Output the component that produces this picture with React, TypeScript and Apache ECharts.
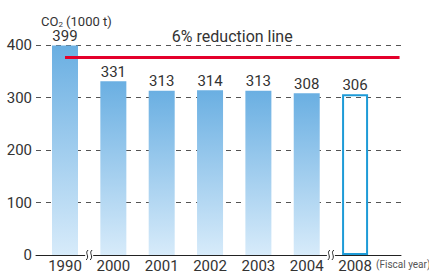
import React, { useEffect, useRef } from "react";
import * as echarts from "echarts";

const years = ["1990", "2000", "2001", "2002", "2003", "2004", "2008"];
const values = [399, 331, 313, 314, 313, 308, 306];
const hollowIndex = [6];
const reductionValue = 376;
const reductionLabel = "6% reduction line";
const yTicks = [0, 100, 200, 300, 400];
const breakPositions = [0.5, 5.5];

const FONT = "Roboto, 'Liberation Sans', sans-serif";

export default function App() {
  const ref = useRef<HTMLDivElement>(null);

  useEffect(() => {
    if (!ref.current) return;
    const chart = echarts.init(ref.current, null, { renderer: "svg" });
    const barGradient = new echarts.graphic.LinearGradient(0, 0, 0, 1, [
      { offset: 0, color: "#6aafe2" },
      { offset: 1, color: "#d7ebfa" },
    ]);
    const data = values.map((v, i) => {
      const hollow = hollowIndex.includes(i);
      return {
        value: [i, v],
        itemStyle: hollow
          ? { color: "rgba(0,0,0,0)", borderColor: "#1e9bd7", borderWidth: 2 }
          : { color: barGradient },
      };
    });
    chart.setOption({
      animation: false,
      textStyle: { fontFamily: FONT },
      title: {
        text: "{a|CO}{b|2}{a| (1000 t)}",
        left: 36,
        top: 9,
        textStyle: {
          fontWeight: "normal",
          rich: {
            a: { fontSize: 13, color: "#333", fontFamily: FONT, fontWeight: "normal" },
            b: { fontSize: 8, color: "#333", fontFamily: FONT, fontWeight: "normal", padding: [6, 0, 0, 0] },
          },
        },
      },
      grid: { left: 36, right: 28, top: 45, bottom: 21, containLabel: false },
      xAxis: {
        type: "value",
        min: -0.6,
        max: 6.95,
        splitLine: { show: false },
        axisTick: { show: false },
        axisLine: { show: true, onZero: false, lineStyle: { color: "#222", width: 1 } },
        axisLabel: {
          show: true,
          customValues: years.map((_, i) => i),
          formatter: (v: number) => years[Math.round(v)] ?? "",
          fontSize: 15,
          color: "#333",
          margin: 3,
          fontFamily: FONT,
        },
        z: 5,
      },
      yAxis: {
        type: "value",
        min: yTicks[0],
        max: yTicks[yTicks.length - 1],
        interval: 100,
        axisLine: { show: false },
        axisTick: { show: false },
        axisLabel: { fontSize: 15, color: "#333", margin: 4, fontFamily: FONT },
        splitLine: { lineStyle: { color: "#555", type: [5, 5], width: 1 } },
      },
      series: [
        {
          type: "bar",
          data,
          barWidth: 26,
          label: {
            show: true,
            position: "top",
            distance: 2,
            fontSize: 15,
            color: "#333",
            fontFamily: FONT,
            formatter: (p: any) => String(p.value[1]),
          },
          markLine: {
            silent: true,
            symbol: "none",
            lineStyle: { color: "#e4002b", width: 3, type: "solid" },
            label: {
              show: true,
              position: "middle",
              formatter: reductionLabel,
              fontSize: 16,
              color: "#333",
              distance: 13,
              fontFamily: FONT,
            },
            data: [[{ coord: [0, reductionValue] }, { coord: [6.92, reductionValue] }]],
          },
        },
      ],
    });

    const graphics: any[] = [];
    breakPositions.forEach((b) => {
      const [px, py] = chart.convertToPixel({ gridIndex: 0 }, [b, 0]) as number[];
      graphics.push({
        type: "rect",
        shape: { x: px - 4, y: py - 2, width: 8, height: 4 },
        style: { fill: "#fff" },
        z: 100,
      });
      [-2, 2].forEach((dx) => {
        const cx = px + dx;
        graphics.push({
          type: "bezierCurve",
          shape: {
            x1: cx + 1,
            y1: py - 5,
            cpx1: cx - 3,
            cpy1: py - 2,
            cpx2: cx + 3,
            cpy2: py + 1,
            x2: cx - 1,
            y2: py + 5,
          },
          style: { stroke: "#222", lineWidth: 1, fill: null },
          z: 101,
        });
      });
    });
    graphics.push({
      type: "text",
      left: 376,
      top: 259,
      style: { text: "(Fiscal year)", fontSize: 10, fill: "#555", fontFamily: FONT },
      z: 100,
    });
    chart.setOption({ graphic: graphics });

    return () => chart.dispose();
  }, []);

  return <div ref={ref} style={{ width: 429, height: 276, position: "absolute", left: 0, top: 0 }} />;
}
